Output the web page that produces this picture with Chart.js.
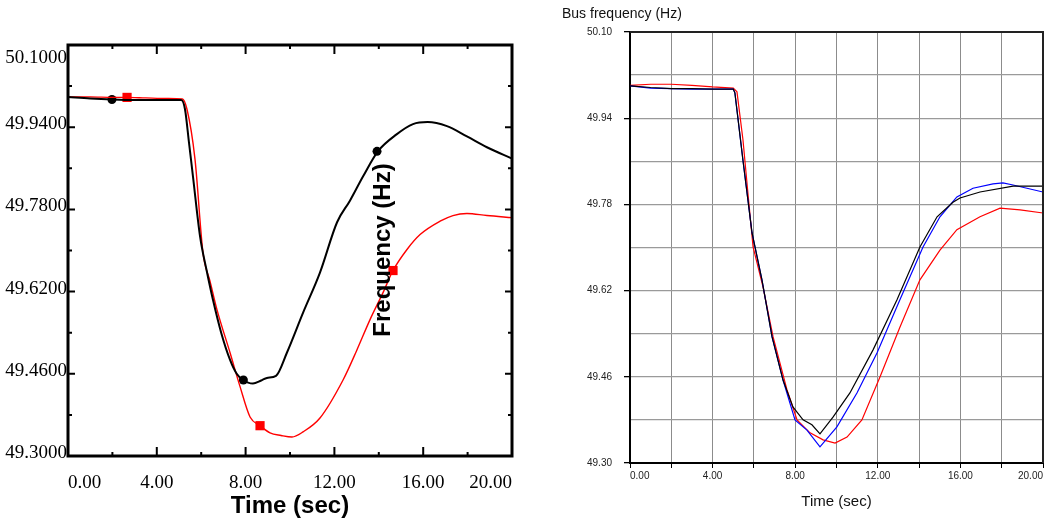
<!DOCTYPE html>
<html>
<head>
<meta charset="utf-8">
<script src="https://cdn.jsdelivr.net/npm/chart.js@4.4.0/dist/chart.umd.min.js"></script>
<style>
  body { margin: 0; background: #fff; }
  #wrap { position: relative; width: 1046px; height: 521px; }
  canvas { position: absolute; top: 0; }
</style>
</head>
<body>
<div id="wrap">
  <canvas id="leftChart" width="530" height="521" style="left:0"></canvas>
  <canvas id="rightChart" width="516" height="521" style="left:530px"></canvas>
</div>
<script>
// --- Left panel data (time in sec, frequency in Hz) ---
const leftBlackT = [0, 1, 2, 3, 4, 5.1, 5.27, 5.45, 5.63, 5.95, 6.25, 6.53, 6.9, 7.3, 7.6, 7.88, 8.33, 8.7, 8.96, 9.37, 9.86, 10.59, 11.35, 12.12, 12.7, 13.3, 13.96, 14.8, 15.54, 16.2, 17.07, 17.97, 18.87, 20];
const leftBlackV = [49.999, 49.996, 49.994, 49.993, 49.993, 49.993, 49.975, 49.91, 49.844, 49.727, 49.66, 49.604, 49.54, 49.487, 49.46, 49.448, 49.441, 49.447, 49.452, 49.456, 49.501, 49.579, 49.657, 49.755, 49.797, 49.845, 49.893, 49.926, 49.946, 49.950, 49.942, 49.922, 49.901, 49.879];
const leftRedT = [0, 1, 2, 2.65, 3.5, 4.5, 5.15, 5.36, 5.72, 6.08, 6.4, 6.71, 7.3, 7.75, 8.2, 8.65, 9.1, 9.6, 10.09, 10.59, 11.35, 12.39, 13.0, 13.6, 14.19, 14.64, 15.27, 15.86, 16.76, 17.34, 17.97, 18.87, 20];
const leftRedV = [49.999, 49.999, 49.998, 49.998, 49.997, 49.996, 49.995, 49.975, 49.878, 49.696, 49.64, 49.585, 49.501, 49.435, 49.376, 49.359, 49.345, 49.340, 49.337, 49.347, 49.374, 49.448, 49.505, 49.565, 49.618, 49.661, 49.702, 49.731, 49.757, 49.768, 49.772, 49.768, 49.764];
const leftCircleT = [1.98, 7.9, 13.92];
const leftCircleV = [49.994, 49.448, 49.893];
const leftSquareT = [2.66, 8.65, 14.64];
const leftSquareV = [49.998, 49.359, 49.661];

// --- Right panel data ---
const rightBlackT = [0, 1, 2, 3, 4, 5.0, 5.08, 5.47, 5.91, 6.39, 6.88, 7.41, 7.89, 8.38, 8.81, 9.2, 9.83, 10.65, 11.77, 12.93, 14.04, 14.87, 15.64, 15.98, 16.95, 18.55, 20];
const rightBlackV = [50.000, 49.997, 49.995, 49.995, 49.994, 49.994, 49.987, 49.862, 49.727, 49.640, 49.534, 49.454, 49.404, 49.380, 49.371, 49.354, 49.385, 49.430, 49.510, 49.603, 49.701, 49.757, 49.784, 49.792, 49.803, 49.814, 49.814];
const rightBlueT = [0, 1, 2, 3, 4, 5.0, 5.08, 5.47, 5.91, 6.39, 6.88, 7.41, 7.99, 8.57, 9.2, 10.02, 10.99, 11.96, 13.07, 14.19, 15.01, 15.83, 16.61, 17.58, 18.06, 18.55, 20];
const rightBlueV = [50.000, 49.996, 49.995, 49.994, 49.994, 49.994, 49.987, 49.862, 49.727, 49.640, 49.534, 49.454, 49.380, 49.361, 49.330, 49.367, 49.430, 49.504, 49.603, 49.701, 49.757, 49.794, 49.810, 49.818, 49.820, 49.816, 49.803];
const rightRedT = [0, 1, 2, 3, 4, 5.0, 5.18, 5.47, 5.71, 5.96, 6.44, 6.93, 7.6, 8.09, 8.72, 9.35, 9.93, 10.51, 11.23, 12.11, 13.07, 14.04, 15.01, 15.83, 16.95, 17.92, 18.89, 20];
const rightRedV = [50.001, 50.003, 50.003, 50.001, 49.998, 49.996, 49.989, 49.900, 49.801, 49.701, 49.627, 49.534, 49.436, 49.380, 49.356, 49.343, 49.337, 49.348, 49.380, 49.460, 49.552, 49.640, 49.695, 49.733, 49.757, 49.773, 49.770, 49.764];

// --- Axis settings ---
const tMin = 0, tMax = 20, tStep = 2, tLabelStep = 4;
const fMin = 49.30, fMax = 50.10, fStep = 0.08;

const SERIF = '"Liberation Serif", "Times New Roman", serif';
const SANS = '"Liberation Sans", Arial, sans-serif';

const pts = (xs, ys) => xs.map((x, i) => ({ x, y: ys[i] }));
const isTimeLabel = v => Math.abs(v / tLabelStep - Math.round(v / tLabelStep)) < 1e-6;
const fIndex = v => Math.round((v - fMin) / fStep);
const topIndex = fIndex(fMax);

// Left panel: box with inward ticks, top label pushed down, stray y-axis title
const leftFrame = {
    id: 'leftFrame',
    afterDraw(chart) {
        const { ctx, chartArea: a, scales: { x, y } } = chart;
        ctx.save();
        ctx.strokeStyle = '#000';
        ctx.lineWidth = 2;
        for (let t = tMin; t <= tMax + 1e-6; t += tStep) {
            const px = x.getPixelForValue(t);
            const len = isTimeLabel(t) ? 9 : 4;
            ctx.beginPath();
            ctx.moveTo(px, a.bottom); ctx.lineTo(px, a.bottom - len);
            ctx.moveTo(px, a.top); ctx.lineTo(px, a.top + len);
            ctx.stroke();
        }
        for (let i = 0; i <= topIndex; i++) {
            const py = y.getPixelForValue(fMin + i * fStep);
            const len = i % 2 === 0 ? 7 : 4;
            ctx.beginPath();
            ctx.moveTo(a.left, py); ctx.lineTo(a.left + len, py);
            ctx.moveTo(a.right, py); ctx.lineTo(a.right - len, py);
            ctx.stroke();
        }
        ctx.lineWidth = 3;
        ctx.strokeRect(a.left, a.top, a.right - a.left, a.bottom - a.top);

        // the top tick label sits below its tick in the original
        ctx.fillStyle = '#000';
        ctx.font = '19px ' + SERIF;
        ctx.textAlign = 'right';
        ctx.textBaseline = 'middle';
        ctx.fillText(fMax.toFixed(4), a.left - 1, y.getPixelForValue(fMax) + 13);

        ctx.translate(383, 250);
        ctx.rotate(-Math.PI / 2);
        ctx.font = 'bold 24px ' + SANS;
        ctx.textAlign = 'center';
        ctx.fillText('Frequency (Hz)', 0, 0);
        ctx.restore();
    }
};

// Right panel: top/right frame lines and title
const rightFrame = {
    id: 'rightFrame',
    afterDraw(chart) {
        const { ctx, chartArea: a } = chart;
        ctx.save();
        ctx.strokeStyle = '#222';
        ctx.lineWidth = 2;
        ctx.beginPath();
        ctx.moveTo(a.left, a.top); ctx.lineTo(a.right, a.top); ctx.lineTo(a.right, a.bottom);
        ctx.stroke();
        ctx.font = '14px ' + SANS;
        ctx.fillStyle = '#111';
        ctx.textBaseline = 'middle';
        ctx.fillText('Bus frequency (Hz)', 32, 14);
        ctx.restore();
    }
};

new Chart(document.getElementById('leftChart').getContext('2d'), {
    type: 'line',
    data: {
        datasets: [
            { data: pts(leftBlackT, leftBlackV), borderColor: '#000', borderWidth: 2, pointRadius: 0, cubicInterpolationMode: 'monotone' },
            { data: pts(leftRedT, leftRedV), borderColor: '#ff0000', borderWidth: 1.4, pointRadius: 0, cubicInterpolationMode: 'monotone' },
            { data: pts(leftCircleT, leftCircleV), showLine: false, pointStyle: 'circle', pointRadius: 4.5, backgroundColor: '#000', borderColor: '#000', borderWidth: 0 },
            { data: pts(leftSquareT, leftSquareV), showLine: false, pointStyle: 'rect', pointRadius: 6.5, backgroundColor: '#ff0000', borderColor: '#ff0000', borderWidth: 0 }
        ]
    },
    options: {
        responsive: false,
        animation: false,
        layout: { padding: { top: 45, right: 18, left: 0, bottom: 0 } },
        plugins: { legend: { display: false }, tooltip: { enabled: false } },
        scales: {
            x: {
                type: 'linear', min: tMin, max: tMax,
                grid: { display: false, drawTicks: false },
                border: { display: false },
                ticks: {
                    stepSize: tStep, autoSkip: false, maxRotation: 0, align: 'inner', padding: 16,
                    color: '#000', font: { family: SERIF, size: 19 },
                    callback: v => isTimeLabel(v) ? v.toFixed(2) : ''
                },
                title: { display: true, text: 'Time (sec)', color: '#000', padding: 0, font: { family: SANS, size: 24, weight: 'bold', lineHeight: 1.2 } },
                afterFit: s => { s.height = 65; }
            },
            y: {
                min: fMin, max: fMax,
                grid: { display: false, drawTicks: false },
                border: { display: false },
                ticks: {
                    stepSize: fStep, autoSkip: false, padding: 1, labelOffset: -3,
                    color: '#000', font: { family: SERIF, size: 19 },
                    callback: v => (fIndex(v) % 2 === 0 && fIndex(v) !== topIndex) ? v.toFixed(4) : ''
                },
                afterFit: s => { s.width = 68; }
            }
        }
    },
    plugins: [leftFrame]
});

new Chart(document.getElementById('rightChart').getContext('2d'), {
    type: 'line',
    data: {
        datasets: [
            { data: pts(rightBlackT, rightBlackV), borderColor: '#000', borderWidth: 1.2, pointRadius: 0, tension: 0 },
            { data: pts(rightBlueT, rightBlueV), borderColor: '#0000ff', borderWidth: 1.2, pointRadius: 0, tension: 0 },
            { data: pts(rightRedT, rightRedV), borderColor: '#ff0000', borderWidth: 1.2, pointRadius: 0, tension: 0 }
        ]
    },
    options: {
        responsive: false,
        animation: false,
        layout: { padding: { top: 32, right: 3, left: 0, bottom: 0 } },
        plugins: { legend: { display: false }, tooltip: { enabled: false } },
        scales: {
            x: {
                type: 'linear', min: tMin, max: tMax,
                grid: { color: '#8c8c8c', lineWidth: 1, tickLength: 5, tickColor: '#000' },
                border: { color: '#000', width: 2 },
                ticks: {
                    stepSize: tStep, autoSkip: false, maxRotation: 0, align: 'inner', padding: 2,
                    color: '#222', font: { family: SANS, size: 10 },
                    callback: v => isTimeLabel(v) ? v.toFixed(2) : ''
                },
                title: { display: true, text: 'Time (sec)', color: '#111', padding: { top: 0, bottom: 10 }, font: { family: SANS, size: 15, lineHeight: 1.2 } },
                afterFit: s => { s.height = 58; }
            },
            y: {
                min: fMin, max: fMax,
                grid: {
                    color: '#9a9a9a', lineWidth: 1.3, tickLength: 6,
                    tickColor: c => (c.tick && fIndex(c.tick.value) % 2 === 0) ? '#000' : 'rgba(0,0,0,0)'
                },
                border: { color: '#000', width: 2 },
                ticks: {
                    stepSize: fStep, autoSkip: false, padding: 12,
                    color: '#222', font: { family: SANS, size: 10 },
                    callback: v => fIndex(v) % 2 === 0 ? v.toFixed(2) : ''
                },
                afterFit: s => { s.width = 100; }
            }
        }
    },
    plugins: [rightFrame]
});
</script>
</body>
</html>
